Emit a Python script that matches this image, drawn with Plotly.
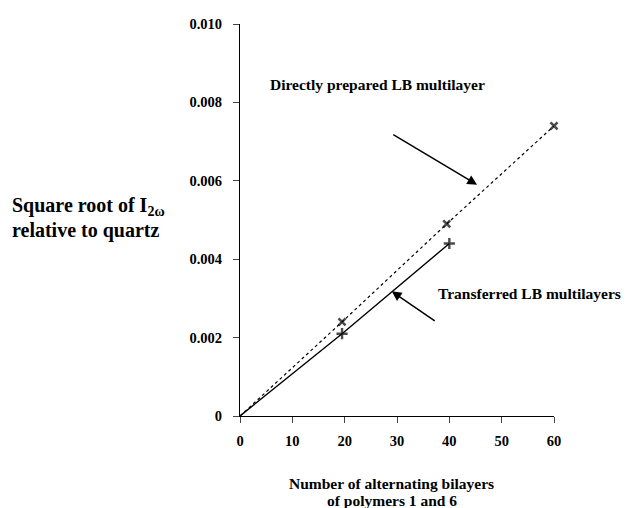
import plotly.graph_objects as go

# Data
direct_x = [0, 19.5, 39.5, 60]
direct_y = [0, 0.0024, 0.0049, 0.0074]
transferred_x = [0, 19.5, 40]
transferred_y = [0, 0.0021, 0.0044]
x_ticks = [0, 10, 20, 30, 40, 50, 60]
y_ticks = [0, 0.002, 0.004, 0.006, 0.008, 0.010]
y_tick_labels = ["0", "0.002", "0.004", "0.006", "0.008", "0.010"]

FONT = "Liberation Serif"

fig = go.Figure()

fig.add_trace(go.Scatter(
    x=direct_x, y=direct_y, mode="lines+markers",
    line=dict(color="black", width=1.2, dash="dot"),
    marker=dict(symbol="x-thin", size=[0] + [7] * (len(direct_x) - 1),
                color="black", line=dict(color="black", width=2.6)),
    showlegend=False, cliponaxis=False,
))
fig.add_trace(go.Scatter(
    x=transferred_x, y=transferred_y, mode="lines+markers",
    line=dict(color="black", width=1.4),
    marker=dict(symbol="cross-thin", size=[0] + [8] * (len(transferred_x) - 1),
                color="black", line=dict(color="black", width=2.4)),
    showlegend=False, cliponaxis=False,
))

tickfont = dict(family=FONT, size=14.5, color="black", weight="bold")
fig.update_xaxes(
    range=[0, 60], tickvals=x_ticks, ticks="outside", ticklen=6, tickwidth=1,
    showline=True, linecolor="black", linewidth=1.2, showgrid=False, zeroline=False,
    tickfont=tickfont, ticklabelstandoff=5,
)
fig.update_yaxes(
    range=[0, 0.010], tickvals=y_ticks, ticktext=y_tick_labels, ticks="outside",
    ticklen=6, tickwidth=1, showline=True, linecolor="black", linewidth=1.2,
    showgrid=False, zeroline=False,
    tickfont=tickfont, ticklabelstandoff=8,
)

ann_font = dict(family=FONT, size=15.5, color="black")
title_font = dict(family=FONT, size=20, color="black")
xtitle_font = dict(family=FONT, size=15.5, color="black")
annotations = [
    dict(text="<b>Directly prepared LB multilayer</b>", x=26.2, y=0.00845,
         xref="x", yref="y", showarrow=False, xanchor="center", yanchor="middle",
         font=ann_font),
    dict(text="<b>Transferred LB multilayers</b>", x=55.4, y=0.00313,
         xref="x", yref="y", showarrow=False, xanchor="center", yanchor="middle",
         font=ann_font),
    dict(x=45.3, y=0.0059, ax=29.0, ay=0.0072, xref="x", yref="y",
         axref="x", ayref="y", showarrow=True, arrowhead=2, arrowsize=1.3,
         arrowwidth=1.5, arrowcolor="black", text=""),
    dict(x=29.0, y=0.00318, ax=37.5, ay=0.0024, xref="x", yref="y",
         axref="x", ayref="y", showarrow=True, arrowhead=2, arrowsize=1.3,
         arrowwidth=1.5, arrowcolor="black", text=""),
    dict(text="<b>Square root of I<sub>2ω</sub></b>",
         x=-0.732, y=0.535, xref="paper", yref="paper", showarrow=False,
         xanchor="left", yanchor="middle", align="left", font=title_font),
    dict(text="<b>relative to quartz</b>",
         x=-0.732, y=0.474, xref="paper", yref="paper", showarrow=False,
         xanchor="left", yanchor="middle", align="left", font=title_font),
    dict(text="<b>Number of alternating bilayers</b>",
         x=0.484, y=-0.172, xref="paper", yref="paper", showarrow=False,
         xanchor="center", yanchor="middle", font=xtitle_font),
    dict(text="<b>of polymers 1 and 6</b>",
         x=0.484, y=-0.215, xref="paper", yref="paper", showarrow=False,
         xanchor="center", yanchor="middle", font=xtitle_font),
]
fig.update_layout(
    annotations=annotations,
    width=635, height=508,
    margin=dict(l=232, r=89, t=8, b=100),
    plot_bgcolor="white", paper_bgcolor="white",
    font=dict(family=FONT, size=14, color="black"),
)

fig.write_html("out.html")
